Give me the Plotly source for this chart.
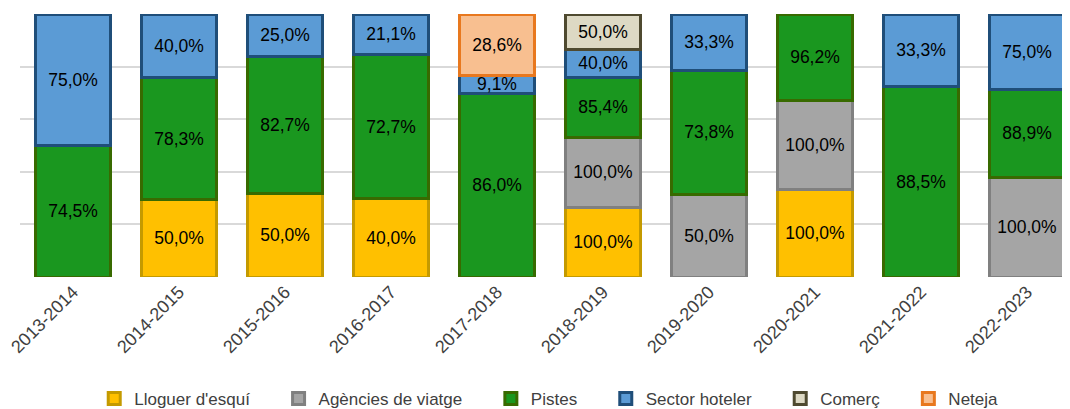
import plotly.graph_objects as go

# Temporades
temporades = ["2013-2014", "2014-2015", "2015-2016", "2016-2017", "2017-2018",
              "2018-2019", "2019-2020", "2020-2021", "2021-2022", "2022-2023"]

# Alçada de cada tram (% de la barra)
lloguer_h = [None, 29.3, 31.6, 29.7, None, 26.5, None, 33.3, None, None]
agencies_h = [None, None, None, None, None, 26.6, 31.4, 34.0, None, 37.9]
pistes_h = [50.0, 46.6, 52.2, 54.8, 69.6, 22.8, 47.3, 32.7, 72.6, 33.5]
hoteler_h = [50.0, 24.1, 16.2, 15.6, 7.2, 10.6, 21.3, None, 27.4, 28.6]
comerc_h = [None, None, None, None, None, 13.4, None, None, None, None]
neteja_h = [None, None, None, None, 23.2, None, None, None, None, None]

# Etiquetes de cada tram
lloguer_lbl = [None, 50.0, 50.0, 40.0, None, 100.0, None, 100.0, None, None]
agencies_lbl = [None, None, None, None, None, 100.0, 50.0, 100.0, None, 100.0]
pistes_lbl = [74.5, 78.3, 82.7, 72.7, 86.0, 85.4, 73.8, 96.2, 88.5, 88.9]
hoteler_lbl = [75.0, 40.0, 25.0, 21.1, 9.1, 40.0, 33.3, None, 33.3, 75.0]
comerc_lbl = [None, None, None, None, None, 50.0, None, None, None, None]
neteja_lbl = [None, None, None, None, 28.6, None, None, None, None, None]


def fmt(vals):
    return ["" if v is None else f"{v:.1f}".replace(".", ",") + "%" for v in vals]


series = [
    ("Lloguer d'esquí", lloguer_h, lloguer_lbl, "#FFC000", "#C49A00"),
    ("Agències de viatge", agencies_h, agencies_lbl, "#A5A5A5", "#808080"),
    ("Pistes", pistes_h, pistes_lbl, "#1A971F", "#386A00"),
    ("Sector hoteler", hoteler_h, hoteler_lbl, "#5B9BD5", "#1F4E79"),
    ("Comerç", comerc_h, comerc_lbl, "#DDD9C4", "#4F4A30"),
    ("Neteja", neteja_h, neteja_lbl, "#F8BF90", "#E8781E"),
]

pad = "\u00a0" * 5  # espai extra entre entrades de la llegenda

fig = go.Figure()
for name, h, lbl, fill, edge in series:
    fig.add_trace(go.Bar(
        name=name + pad, x=temporades, y=h, text=fmt(lbl),
        textposition="inside", insidetextanchor="middle", textangle=0,
        constraintext="none",
        textfont=dict(family="Liberation Sans, Arial", size=17.5, color="#000000"),
        marker=dict(color=fill, line=dict(color=edge, width=3)),
        width=0.7,
    ))

# la pàgina té un marge de 8 px, es compensa als marges
fig.update_layout(
    barmode="stack", barnorm="percent",
    width=1070, height=409,
    margin=dict(l=12, r=8, t=6, b=140, autoexpand=False),
    plot_bgcolor="white", paper_bgcolor="white",
    font=dict(family="Liberation Sans, Arial", color="#404040"),
    legend=dict(orientation="h", x=0.5145, xanchor="center", y=-0.464, yanchor="middle",
                font=dict(size=17, color="#404040"), traceorder="normal"),
    showlegend=True,
)
fig.update_xaxes(range=[-0.5, 9.406], tickangle=-45, tickfont=dict(size=18, color="#404040"),
                 showgrid=False, showline=False, ticks="", automargin=False)
fig.update_yaxes(range=[0, 100], tickvals=[0, 20, 40, 60, 80, 100], showticklabels=False,
                 showgrid=True, gridcolor="#D9D9D9", gridwidth=1.5, zeroline=False,
                 automargin=False)

fig.write_html("out.html")
